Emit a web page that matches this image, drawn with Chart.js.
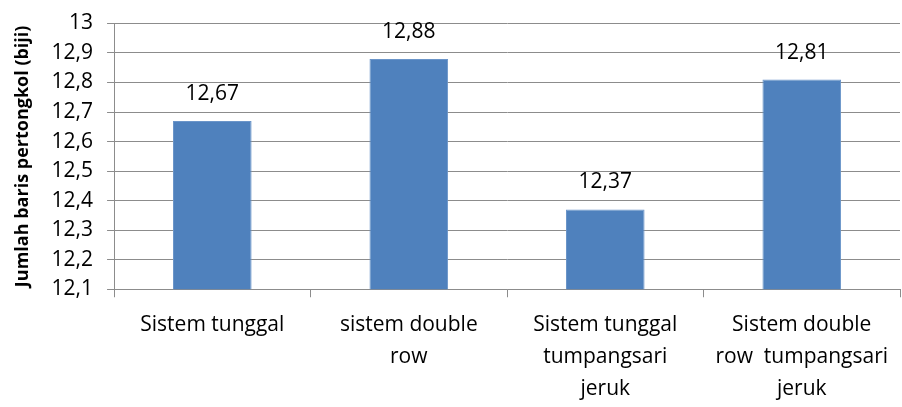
<!DOCTYPE html>
<html>
<head>
<meta charset="utf-8">
<script src="https://cdn.jsdelivr.net/npm/chart.js@4"></script>
<style>
  html, body { margin: 0; padding: 0; background: #fff; }
  #wrap { width: 902px; height: 407px; }
</style>
</head>
<body>
<div id="wrap"><canvas id="myChart" width="902" height="407"></canvas></div>
<script>
const categories = [
  ['Sistem tunggal'],
  ['sistem double', 'row'],
  ['Sistem tunggal', 'tumpangsari', 'jeruk'],
  ['Sistem double', 'row  tumpangsari', 'jeruk']
];
const values = [12.67, 12.88, 12.37, 12.81];
const yTicks = [12.1, 12.2, 12.3, 12.4, 12.5, 12.6, 12.7, 12.8, 12.9, 13];
const yTickLabels = ['12,1', '12,2', '12,3', '12,4', '12,5', '12,6', '12,7', '12,8', '12,9', '13'];
const valueLabels = ['12,67', '12,88', '12,37', '12,81'];

const fontFamily = '"Open Sans", sans-serif';

// etiket nilai di atas batang
const barLabels = {
  id: 'barLabels',
  afterDatasetsDraw(chart) {
    const c = chart.ctx;
    const meta = chart.getDatasetMeta(0);
    c.save();
    c.fillStyle = '#000';
    c.font = '21px ' + fontFamily;
    c.textAlign = 'center';
    c.textBaseline = 'middle';
    meta.data.forEach((bar, i) => {
      c.fillText(valueLabels[i], bar.x, bar.y - 27);
    });
    c.restore();
  }
};

const ctx = document.getElementById('myChart').getContext('2d');

new Chart(ctx, {
  type: 'bar',
  data: {
    labels: categories,
    datasets: [{
      data: values,
      backgroundColor: '#4F81BD',
      borderColor: '#6b95c9',
      borderWidth: 1,
      barPercentage: 0.4,
      categoryPercentage: 1.0
    }]
  },
  options: {
    responsive: false,
    animation: false,
    layout: { padding: { top: 0, right: 2, left: 12, bottom: -10 } },
    plugins: {
      legend: { display: false },
      tooltip: { enabled: false }
    },
    scales: {
      y: {
        min: 12.1,
        max: 13,
        afterBuildTicks: scale => {
          scale.ticks = yTicks.map(v => ({ value: v }));
        },
        ticks: {
          color: '#000',
          padding: 14,
          font: { family: fontFamily, size: 21, lineHeight: 0.9 },
          callback: (v, i) => yTickLabels[i]
        },
        grid: {
          color: '#8c8c8c',
          lineWidth: 1,
          tickLength: 7
        },
        border: { color: '#8c8c8c' },
        title: {
          display: true,
          text: 'Jumlah baris pertongkol (biji)',
          color: '#000',
          font: { family: fontFamily, size: 18, weight: 'bold' },
          padding: { top: 0, bottom: 4 }
        }
      },
      x: {
        ticks: {
          color: '#000',
          padding: 12,
          maxRotation: 0,
          font: { family: fontFamily, size: 21, lineHeight: 1.52 }
        },
        grid: {
          offset: true,
          drawOnChartArea: false,
          color: '#8c8c8c',
          tickLength: 8
        },
        border: { color: '#8c8c8c' }
      }
    }
  },
  plugins: [barLabels]
});
</script>
</body>
</html>
